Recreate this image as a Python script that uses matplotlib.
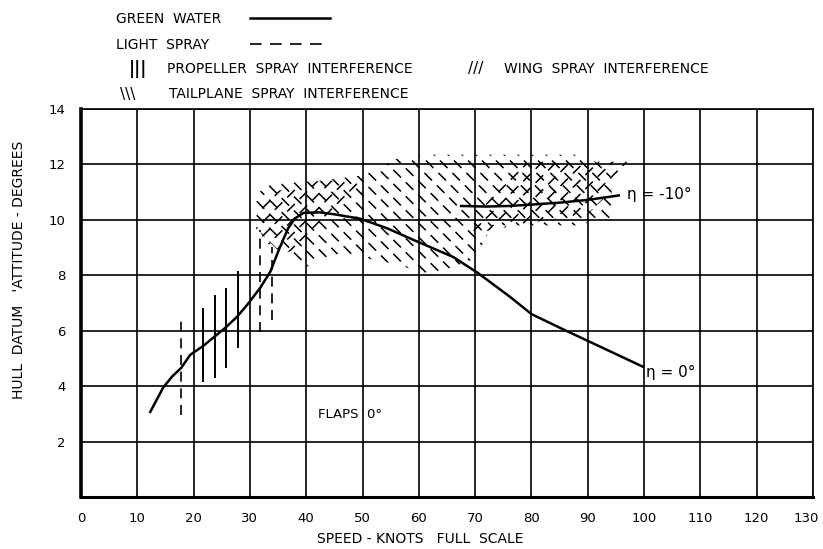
import matplotlib
matplotlib.use('Agg')
import matplotlib.pyplot as plt
import matplotlib.transforms as mtransforms
from matplotlib.lines import Line2D

# =========================
# 数据
# =========================

# 绿水曲线 eta = 0°
green_x = [12.3, 14.6, 16.2, 17.8, 19.4, 21.7, 24.1, 25.6, 27.7, 29.5, 31.8, 33.6,
           35.3, 36.8, 38.0, 39.5, 42.4, 45.0, 49.6, 54.3, 59.0, 66.1, 70.5, 76.2,
           80.0, 85.1, 99.8]
green_y = [3.07, 3.95, 4.35, 4.66, 5.13, 5.45, 5.85, 6.1, 6.5, 6.93, 7.54, 8.12,
           9.0, 9.7, 10.05, 10.25, 10.27, 10.2, 10.04, 9.7, 9.28, 8.66, 8.08, 7.22,
           6.6, 6.1, 4.7]

# 绿水曲线 eta = -10°
neg10_x = [67.5, 72.0, 76.0, 80.0, 85.0, 90.0, 95.5]
neg10_y = [10.5, 10.48, 10.5, 10.55, 10.62, 10.72, 10.88]

# 螺旋桨溅水干扰（竖线）
prop_x = [21.7, 23.8, 25.8, 27.9]
prop_lo = [4.15, 4.3, 4.66, 5.38]
prop_hi = [6.82, 7.29, 7.54, 8.16]

# 轻度溅水（虚线）
light_x = [17.8, 31.8, 33.9]
light_lo = [2.96, 5.96, 6.4]
light_hi = [6.4, 9.64, 9.03]

# 尾翼溅水干扰区域 (\\\)
tail_x = [30, 33, 42, 50, 56, 62, 89, 94, 94.5, 88, 73, 70, 62, 56, 46, 40, 35, 32]
tail_y = [10.6, 11.3, 11.4, 11.6, 12.2, 12.35, 12.35, 11.8, 10.1, 9.8, 9.8, 8.6,
          8.0, 8.4, 8.8, 8.3, 8.9, 9.5]

# 机翼溅水干扰区域 (///)
wing1_x = [31, 31.5, 34, 42, 50, 50, 46, 40, 36]
wing1_y = [9.4, 10.6, 11.0, 11.4, 11.5, 11.0, 10.4, 9.0, 8.8]
wing2_x = [68.5, 72, 77, 80, 97, 94, 90, 80, 72]
wing2_y = [9.6, 10.6, 11.9, 12.1, 12.1, 11.0, 10.2, 9.9, 9.6]

x_ticks = list(range(0, 131, 10))
y_ticks = list(range(2, 15, 2))

# =========================
# 画图
# =========================

plt.rcParams['font.family'] = ['DejaVu Sans']

fig = plt.figure(figsize=(8.23, 5.49), dpi=100)
ax = fig.add_axes([0.0984, 0.0947, 0.8895, 0.7068])

ax.set_xlim(0, 130)
ax.set_ylim(0, 14)
ax.set_xticks(x_ticks)
ax.set_yticks(y_ticks)
ax.set_xticklabels([str(v) for v in x_ticks], fontsize=9.5)
ax.set_yticklabels([str(v) for v in y_ticks], fontsize=9.5)
ax.tick_params(length=0, pad=11)
ax.grid(color='black', linewidth=1.2)
ax.set_axisbelow(True)

# 最右边的 130 往左挪一点，免得被裁掉
last = ax.get_xticklabels()[-1]
last.set_transform(last.get_transform() +
                   mtransforms.ScaledTranslation(-0.07, 0, fig.dpi_scale_trans))

for side in ['top', 'right']:
    ax.spines[side].set_linewidth(1.2)
ax.spines['left'].set_linewidth(2.6)
ax.spines['bottom'].set_linewidth(2.2)


# 手绘风格的虚线阴影：45° 斜线，裁剪到区域多边形里
def hatch_region(xs, ys, direction, step_px=14):
    poly = ax.fill(xs, ys, facecolor='none', edgecolor='none')[0]
    p0 = ax.transData.transform((0, 0))
    p1 = ax.transData.transform((1, 1))
    sx = p1[0] - p0[0]
    sy = p1[1] - p0[1]
    slope = direction * sx / sy
    cs = [y - slope * x for x, y in zip(xs, ys)]
    c = min(cs)
    dc = step_px / sy
    x0 = min(xs) - 1
    x1 = max(xs) + 1
    while c <= max(cs):
        ln, = ax.plot([x0, x1], [slope * x0 + c, slope * x1 + c],
                      color='black', linewidth=1.1, linestyle=(0, (7, 4.5)))
        ln.set_clip_path(poly)
        c += dc


hatch_region(tail_x, tail_y, -1)
hatch_region(wing1_x, wing1_y, 1)
hatch_region(wing2_x, wing2_y, 1)

# 螺旋桨溅水竖线
ax.vlines(prop_x, prop_lo, prop_hi, colors='black', linewidth=1.4)

# 轻度溅水虚线
ax.vlines(light_x, light_lo, light_hi, colors='black', linewidth=1.2,
          linestyles=(0, (6, 4)))

# 绿水曲线
ax.plot(green_x, green_y, color='black', linewidth=1.8)
ax.plot(neg10_x, neg10_y, color='black', linewidth=1.8)

ax.text(97, 10.9, 'η = -10°', fontsize=11, va='center')
ax.text(100.4, 4.5, 'η = 0°', fontsize=11, va='center')
ax.text(42.1, 2.96, 'FLAPS  0°', fontsize=9.5, va='center')

# 坐标轴标题
fig.text(420 / 823, 1 - 539 / 549, 'SPEED - KNOTS   FULL  SCALE',
         ha='center', va='center', fontsize=10)
fig.text(19 / 823, 1 - 270 / 549, "HULL  DATUM   'ATTITUDE - DEGREES",
         ha='center', va='center', rotation=90, fontsize=10)

# 图例（手写在图上方）
W, H = 823.0, 549.0

fig.text(116 / W, 1 - 19 / H, 'GREEN  WATER', va='center', fontsize=10)
fig.add_artist(Line2D([250 / W, 330 / W], [1 - 18 / H, 1 - 18 / H],
                      transform=fig.transFigure, color='black', linewidth=1.8))

fig.text(116 / W, 1 - 45 / H, 'LIGHT  SPRAY', va='center', fontsize=10)
fig.add_artist(Line2D([250 / W, 330 / W], [1 - 44 / H, 1 - 44 / H],
                      transform=fig.transFigure, color='black', linewidth=1.2,
                      linestyle=(0, (7, 5))))

fig.text(129 / W, 1 - 69 / H, '|||', va='center', fontsize=12, fontweight='bold')
fig.text(167 / W, 1 - 69 / H, 'PROPELLER  SPRAY  INTERFERENCE', va='center', fontsize=10)
fig.text(468 / W, 1 - 69 / H, '///', va='center', fontsize=11)
fig.text(504 / W, 1 - 69 / H, 'WING  SPRAY  INTERFERENCE', va='center', fontsize=10)

fig.text(120 / W, 1 - 94 / H, '\\\\\\', va='center', fontsize=11)
fig.text(169 / W, 1 - 94 / H, 'TAILPLANE  SPRAY  INTERFERENCE', va='center', fontsize=10)

fig.savefig('out.png', dpi=100)
